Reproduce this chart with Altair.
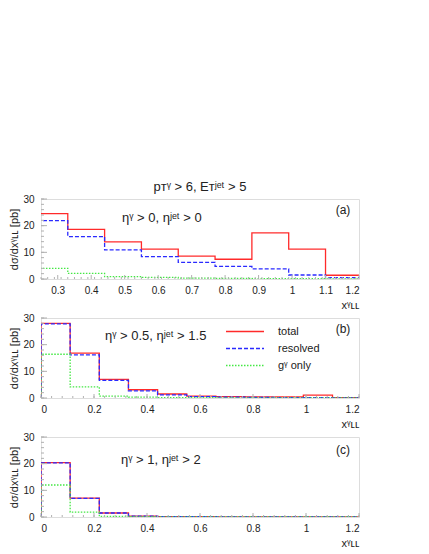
import altair as alt
import pandas as pd
import numpy as np

# ---- data ----
edges = [0.0, 0.11, 0.22, 0.33, 0.44, 0.55, 0.66, 0.77, 0.88, 0.99, 1.10, 1.21]
series_names = ["total", "resolved", "gᵞ only"]

# panel (a): bins start at 0.22
a_total = [24.5, 18.6, 13.9, 11.2, 8.6, 7.4, 17.3, 11.2, 1.4]
a_resolved = [21.9, 15.9, 10.9, 8.4, 6.2, 4.7, 3.8, 1.5, 0.5]
a_gonly = [4.0, 2.1, 0.9, 0.6, 0.3, 0.2, 0.1, 0.1, 0.05]

# panel (b): bins start at 0
b_total = [28.0, 16.8, 7.0, 3.1, 1.5, 0.7, 0.5, 0.4, 0.4, 1.1, 0.1]
b_resolved = [27.8, 16.2, 6.6, 2.7, 1.2, 0.5, 0.3, 0.2, 0.15, 0.1, 0.05]
b_gonly = [16.4, 4.2, 0.7, 0.3, 0.15, 0.1, 0.05, 0.05, 0.03, 0.02, 0.01]

# panel (c)
c_total = [20.4, 7.1, 1.5, 0.3, 0.15, 0.1, 0.05, 0.05, 0.05, 0.05, 0.02]
c_resolved = [20.3, 7.0, 1.5, 0.3, 0.15, 0.1, 0.05, 0.05, 0.05, 0.05, 0.02]
c_gonly = [12.0, 1.8, 0.25, 0.1, 0.05, 0.03, 0.02, 0.02, 0.01, 0.01, 0.01]

y_ticks = [0, 10, 20, 30]
x_ticks_a = [0.3, 0.4, 0.5, 0.6, 0.7, 0.8, 0.9, 1.0, 1.1, 1.2]
x_ticks_bc = [0, 0.2, 0.4, 0.6, 0.8, 1.0, 1.2]

FONT = "Liberation Sans"
RED, BLUE, GREEN = "#ff2a2a", "#2a2aff", "#44e844"
FRAME = "#b0b0b0"


def hist_df(start_edge_idx, vals_list, lead_zero):
    rows = []
    for name, vals in zip(series_names, vals_list):
        e = edges[start_edge_idx:start_edge_idx + len(vals) + 1]
        k = 0
        if lead_zero:
            rows.append({"series": name, "x": e[0], "y": 0.0, "k": k}); k += 1
        for xi, yi in zip(e[:-1], vals):
            rows.append({"series": name, "x": xi, "y": yi, "k": k}); k += 1
        rows.append({"series": name, "x": e[len(vals)], "y": vals[-1], "k": k})
    return pd.DataFrame(rows)


def panel(df, xdom, xticks, minor_step, note, tag, show_legend, title=None):
    xs = alt.Scale(domain=xdom, nice=False, zero=False)
    ys = alt.Scale(domain=[0, 30], nice=False)
    xax = alt.Axis(values=xticks, format="~g", title="xᵞʟʟ", titleAnchor="end",
                   titleAlign="right", titleFont=FONT, titleFontSize=11,
                   titleFontWeight="normal", titlePadding=4, titleColor="#222",
                   labelFont=FONT, labelFontSize=10, labelColor="#222",
                   tickSize=0, labelPadding=6, domain=False, grid=False)
    yax = alt.Axis(values=y_ticks, format="d", title="dσ/dxᵞʟʟ [pb]",
                   titleFont=FONT, titleFontSize=11, titleFontWeight="normal",
                   titleColor="#222", titlePadding=3,
                   labelFont=FONT, labelFontSize=10, labelColor="#222",
                   tickSize=0, labelPadding=7, domain=False, grid=False)
    if show_legend:
        leg = alt.Legend(title=None, orient="none", legendX=184, legendY=5,
                         symbolType="stroke", symbolSize=1444, symbolStrokeWidth=1.3,
                         clipHeight=17, rowPadding=0, padding=0, labelOffset=13,
                         labelFont=FONT, labelFontSize=11, labelColor="#222")
    else:
        leg = None
    lines = alt.Chart(df).mark_line(interpolate="step-after", strokeWidth=1.3, clip=True).encode(
        x=alt.X("x:Q", scale=xs, axis=xax, title="xᵞʟʟ"),
        y=alt.Y("y:Q", scale=ys, axis=yax, title="dσ/dxᵞʟʟ [pb]"),
        color=alt.Color("series:N", scale=alt.Scale(domain=series_names, range=[RED, BLUE, GREEN]),
                        legend=leg),
        strokeDash=alt.StrokeDash("series:N",
                                  scale=alt.Scale(domain=series_names, range=[[1, 0], [4, 2], [1.5, 1.5]]),
                                  legend=leg),
        order="k:Q",
    )
    major = pd.DataFrame({"x": xticks})
    minor = pd.DataFrame({"x": list(np.round(np.arange(xdom[0], xdom[1] + 1e-9, minor_step), 3))})
    ymaj = pd.DataFrame({"y": y_ticks})
    ymin = pd.DataFrame({"y": list(range(0, 31, 2))})
    xt1 = alt.Chart(major).mark_rule(color=FRAME, strokeWidth=1).encode(
        x=alt.X("x:Q", scale=xs, axis=xax, title="xᵞʟʟ"), y=alt.value(80), y2=alt.value(76))
    xt2 = alt.Chart(minor).mark_rule(color=FRAME, strokeWidth=1).encode(
        x=alt.X("x:Q", scale=xs, axis=xax, title="xᵞʟʟ"), y=alt.value(80), y2=alt.value(78))
    yt1 = alt.Chart(ymaj).mark_rule(color=FRAME, strokeWidth=1).encode(
        y=alt.Y("y:Q", scale=ys, axis=yax, title="dσ/dxᵞʟʟ [pb]"), x=alt.value(0), x2=alt.value(6))
    yt2 = alt.Chart(ymin).mark_rule(color=FRAME, strokeWidth=1).encode(
        y=alt.Y("y:Q", scale=ys, axis=yax, title="dσ/dxᵞʟʟ [pb]"), x=alt.value(0), x2=alt.value(3))
    one = pd.DataFrame({"a": [0]})
    t_note = alt.Chart(one).mark_text(align="left", baseline="middle", font=FONT, fontSize=13,
                                      color="#222").encode(
        x=alt.value(note[1]), y=alt.value(note[2]), text=alt.value(note[0]))
    t_tag = alt.Chart(one).mark_text(align="center", baseline="middle", font=FONT, fontSize=12,
                                     color="#222").encode(
        x=alt.value(302), y=alt.value(tag[1]), text=alt.value(tag[0]))
    ch = alt.layer(lines, yt2, yt1, xt2, xt1, t_note, t_tag).properties(width=318, height=80)
    if title:
        ch = ch.properties(title=alt.Title(title, font=FONT, fontSize=13, fontWeight="normal",
                                           color="#222", offset=0, frame="group"))
    return ch


dfa = hist_df(2, [a_total, a_resolved, a_gonly], False)
dfb = hist_df(0, [b_total, b_resolved, b_gonly], True)
dfc = hist_df(0, [c_total, c_resolved, c_gonly], True)

pa = panel(dfa, [0.25, 1.2], x_ticks_a, 0.02, ("ηᵞ > 0, ηʲᵉᵗ > 0", 81, 19), ("(a)", 11),
           False, title="pᴛᵞ > 6,   Eᴛʲᵉᵗ > 5")
pb = panel(dfb, [0, 1.2], x_ticks_bc, 0.04, ("ηᵞ > 0.5, ηʲᵉᵗ > 1.5", 64, 18), ("(b)", 11), True)
pc = panel(dfc, [0, 1.2], x_ticks_bc, 0.04, ("ηᵞ > 1, ηʲᵉᵗ > 2", 80, 23), ("(c)", 13), False)

chart = alt.vconcat(pa, pb, pc, spacing=39, bounds="flush").resolve_scale(
    color="independent", strokeDash="independent", x="independent", y="independent"
).resolve_legend(color="independent", strokeDash="independent").properties(
    padding={"left": 0, "top": 172, "right": 5, "bottom": 5}
).configure_view(stroke=FRAME, strokeWidth=1).configure(background="white")

chart.save("out.html", embed_options={"renderer": "svg", "actions": False})
